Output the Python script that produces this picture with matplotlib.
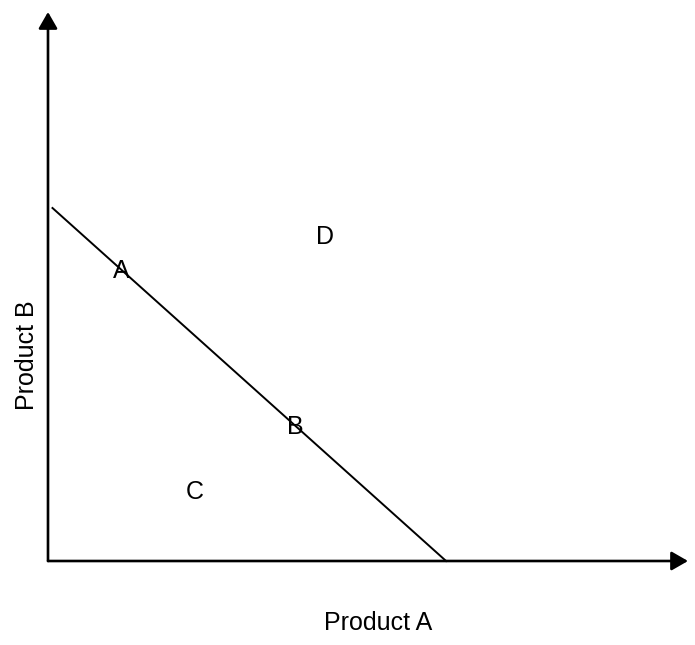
import matplotlib.pyplot as plt

# budget line endpoints (Product A, Product B)
line_x = [0.07, 6.22]
line_y = [6.43, 0.0]

# region / point labels
labels = ['A', 'B', 'C', 'D']
label_x = [1.15, 3.86, 2.30, 4.33]
label_y = [5.28, 2.44, 1.26, 5.90]

plt.rcParams['font.family'] = ['Liberation Sans', 'DejaVu Sans']

fig = plt.figure(figsize=(6.95, 6.45), dpi=100)
ax = fig.add_axes([48 / 695, 84 / 645, 640 / 695, 549 / 645])
ax.set_xlim(0, 10)
ax.set_ylim(0, 10)
ax.axis('off')

# axes with arrowheads
arrow = dict(arrowstyle='-|>,head_length=0.4,head_width=0.23',
             mutation_scale=25, color='black', lw=1.9,
             shrinkA=0, shrinkB=0)
ax.annotate('', xy=(10, 0), xytext=(0, 0), arrowprops=arrow,
            annotation_clip=False)
ax.annotate('', xy=(0, 10), xytext=(0, 0), arrowprops=arrow,
            annotation_clip=False)

ax.plot(line_x, line_y, color='black', lw=1.4, clip_on=False)

for lab, x, y in zip(labels, label_x, label_y):
    ax.text(x, y, lab, fontsize=18, ha='center', va='center')

fig.text(378 / 695, 1 - 623 / 645, 'Product A', fontsize=18,
         ha='center', va='center')
fig.text(27 / 695, 1 - 355 / 645, 'Product B', fontsize=18,
         ha='center', va='center', rotation=90)

fig.savefig('out.png', dpi=100, facecolor='white')
